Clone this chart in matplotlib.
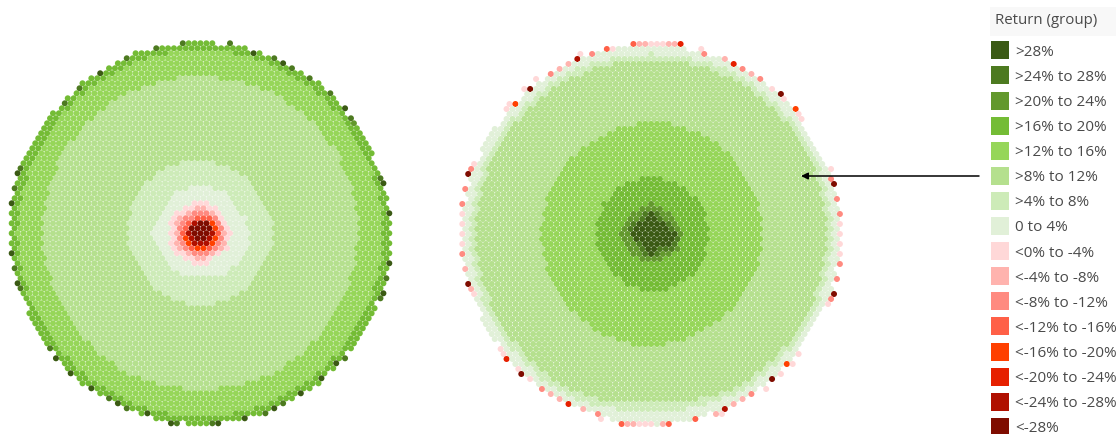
import numpy as np
import matplotlib
matplotlib.use("Agg")
from matplotlib import pyplot as plt
from matplotlib.patches import Rectangle

# legend
groups = [">28%", ">24% to 28%", ">20% to 24%", ">16% to 20%", ">12% to 16%", ">8% to 12%",
          ">4% to 8%", "0 to 4%", "<0% to -4%", "<-4% to -8%", "<-8% to -12%", "<-12% to -16%",
          "<-16% to -20%", "<-20% to -24%", "<-24% to -28%", "<-28%"]
colors = ["#3B5A14", "#4D7A20", "#62982C", "#74BC35", "#96D659", "#B5E08E", "#CDEBB8", "#E1F0D8",
          "#FFD8D8", "#FFB3AE", "#FF8A80", "#FF6047", "#FF4000", "#E62000", "#B01000", "#7F0C00"]

# band edges, radius at 0,30,...,330 degrees
band_angles = np.arange(0, 360, 30)
left_band_groups = [15, 14, 13, 12, 11, 10, 9, 8, 7, 6, 5, 4]
left_band_radii = [
    [11, 11, 12, 11, 11, 11, 11, 10, 10, 9, 10, 10],
    [13, 12, 13, 12, 12, 12, 12, 12, 12, 11, 12, 13],
    [14, 14, 14, 13, 13, 13, 13, 14, 15, 13, 14, 15],
    [16, 16, 15, 14, 14, 14, 15, 16, 16, 16, 15, 17],
    [19, 18, 18, 18, 17, 18, 18, 18, 18, 19, 18, 19],
    [22, 22, 23, 23, 21, 22, 22, 22, 22, 22, 21, 23],
    [26, 25, 26, 27, 26, 26, 26, 26, 26, 26, 24, 26],
    [31, 30, 31, 32, 32, 32, 33, 32, 31, 33, 28, 31],
    [50, 45, 48, 45, 48, 45, 49, 44, 46, 43, 47, 47],
    [72, 71, 72, 72, 73, 73, 73, 70, 71, 71, 71, 71],
    [157, 158, 157, 156, 158, 158, 158, 156, 157, 156, 157, 157],
    [182, 182, 182, 183, 182, 182, 183, 181, 182, 183, 182, 182],
]
right_band_groups = [0, 1, 2, 3, 4, 5, 6]
right_band_radii = [
    [24, 17, 16, 20, 16, 18, 19, 15, 16, 21, 17, 25],
    [27, 21, 20, 24, 21, 21, 22, 19, 20, 24, 21, 28],
    [31, 30, 29, 30, 28, 30, 30, 27, 27, 26, 28, 31],
    [58, 57, 57, 56, 56, 56, 56, 54, 55, 57, 58, 58],
    [111, 111, 111, 112, 110, 110, 110, 109, 111, 112, 110, 110],
    [175, 175, 175, 174, 175, 175, 175, 174, 176, 169, 175, 175],
    [181, 181, 181, 180, 181, 181, 181, 180, 182, 177, 181, 181],
]

# outer edge, radius at 0,15,...,345 degrees
rim_angles = np.arange(0, 360, 15)
left_outline = [189, 190, 188, 190, 191, 190, 190, 191, 191, 190, 190, 190,
                190, 190, 188, 190, 191, 190, 190, 191, 191, 190, 189, 190]
right_disc = [187, 188, 187, 188, 188, 188, 189, 189, 189, 188, 188, 188,
              187, 188, 188, 188, 188, 188, 190, 189, 188, 188, 187, 188]
right_outline = [189, 190, 190, 190, 190, 189, 191, 191, 191, 190, 190, 191,
                 190, 189, 189, 191, 190, 189, 192, 191, 191, 190, 189, 191]

# dark / red cells sitting on the rim: angle in degrees and legend group
left_rim_angle = [6, 15.6, 17, 35, 38, 41, 47, 55, 61, 64, 68, 73, 81, 95, 96, 104, 113, 122, 130, 136,
                  160, 162, 166, 171, 186, 191, 195, 197, 218, 221, 227, 235, 241, 244, 248, 253, 261, 263,
                  274, 276, 284, 289, 293, 296, 302, 310, 316, 319, 340, 342, 346, 351]
left_rim_group = [0, 0, 1, 2, 1, 0, 1, 1, 1, 0, 1, 0, 1, 0, 1, 1, 1, 0, 1, 1,
                  1, 0, 1, 0, 0, 1, 0, 1, 1, 0, 0, 0, 1, 0, 1, 0, 0, 1,
                  1, 0, 0, 1, 0, 1, 0, 0, 0, 1, 1, 0, 1, 0]
right_rim_angle = [0, 3, 6, 11, 15.5, 17, 19, 37, 39, 41, 45, 47, 50, 55, 58, 60.6, 64, 68, 73, 74.6,
                   81, 83, 84.5, 86, 88, 90, 92, 94, 96, 102, 104, 108, 111, 113, 116, 119, 122, 127,
                   130, 131, 136, 138, 139, 158, 160, 162, 165.6, 166.5, 171, 174, 177, 180, 183, 186,
                   191, 195, 197, 199, 218, 219, 221, 226, 227, 230, 235, 238, 241, 244, 249, 253, 255,
                   261, 263, 265, 267, 268.5, 270, 273, 275, 276, 283, 284, 289, 292, 293, 296, 299.5,
                   302, 307, 310, 312, 316, 318, 320, 339, 340, 342, 346, 351, 354, 357]
right_rim_group = [8, 8, 10, 10, 15, 10, 8, 8, 8, 12, 8, 15, 8, 10, 9, 10, 13, 9, 10, 8,
                   13, 9, 9, 8, 8, 8, 9, 9, 11, 8, 11, 10, 8, 14, 9, 9, 10, 8,
                   15, 8, 12, 8, 8, 8, 10, 15, 8, 10, 10, 8, 8, 8, 8, 10,
                   9, 15, 9, 8, 8, 8, 13, 8, 15, 8, 10, 9, 9, 13, 9, 10, 8,
                   11, 9, 9, 8, 8, 8, 9, 9, 11, 8, 11, 9, 8, 14, 9, 9,
                   10, 8, 15, 8, 12, 8, 8, 8, 10, 15, 10, 10, 8, 8]

W, H = 1116, 435
STEP_X = 5.9
STEP_Y = 5.0


def radial_map(ax, cx, cy, outline, radii, band_groups, last_group, rim_angle, rim_group, rim_radius=None):
    rows = np.arange(-41, 42)
    cols = np.arange(-36, 37)
    gx, gy = np.meshgrid(cols, rows)
    x = cx + STEP_X * (gx + 0.5 * (gy % 2))
    y = cy + STEP_Y * gy
    x, y = x.ravel(), y.ravel()
    r = np.hypot(x - cx, y - cy)
    theta = np.degrees(np.arctan2(cy - y, x - cx)) % 360

    # every cell takes the group of the first band it falls inside
    cell = np.full(x.shape, last_group)
    for g, edge in reversed(list(zip(band_groups, radii))):
        cell[r <= np.interp(theta, band_angles, edge, period=360)] = g
    keep = r <= np.interp(theta, rim_angles, outline, period=360) + 0.5

    # rim marks go on the grid cell nearest to their spot on the edge
    if rim_radius is None:
        rim_radius = outline
    for a, g in zip(rim_angle, rim_group):
        rr = np.interp(a, rim_angles, rim_radius, period=360)
        px = cx + rr * np.cos(np.radians(a))
        py = cy - rr * np.sin(np.radians(a))
        i = np.argmin(np.hypot(x - px, y - py))
        cell[i] = g
        keep[i] = True

    ax.scatter(x[keep], y[keep], s=(6.0 * 0.72) ** 2, c=np.array(colors)[cell[keep]], linewidths=0)


fig = plt.figure(figsize=(W / 100, H / 100), dpi=100)
ax = fig.add_axes([0, 0, 1, 1])
ax.set_xlim(0, W)
ax.set_ylim(H, 0)
ax.axis("off")

radial_map(ax, 200.5, 234.3, left_outline, left_band_radii, left_band_groups, 3, left_rim_angle, left_rim_group)
radial_map(ax, 651.1, 235, right_disc, right_band_radii, right_band_groups, 7, right_rim_angle, right_rim_group,
           right_outline)

ax.annotate("", xy=(801, 177), xytext=(979, 177),
            arrowprops=dict(arrowstyle="-|>", color="black", lw=1.1, mutation_scale=10, shrinkA=0, shrinkB=0))

# legend on the right
ax.add_patch(Rectangle((990, 8), 126, 29, facecolor="#F8F8F8", edgecolor="none"))
ax.text(995, 21, "Return (group)", fontsize=10.8, family="Open Sans", color="#4A4A4A", va="center")
for i, (label, col) in enumerate(zip(groups, colors)):
    top = 42.3 + 25.1 * i
    ax.add_patch(Rectangle((991, top), 18, 18, facecolor=col, edgecolor="none"))
    ax.text(1015, top + 10, label, fontsize=11, family="Open Sans", color="#4A4A4A", va="center", clip_on=True)

fig.savefig("out.png", dpi=100)
